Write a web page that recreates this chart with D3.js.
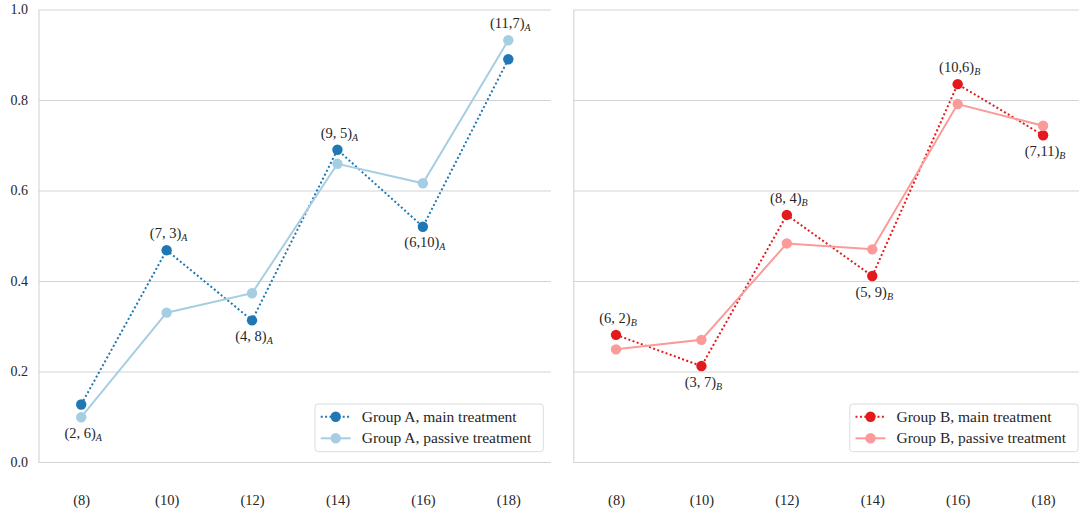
<!DOCTYPE html>
<html>
<head>
<meta charset="utf-8">
<script src="https://cdn.jsdelivr.net/npm/d3@7"></script>
<style>
  html, body { margin: 0; padding: 0; background: #fff; }
  svg { display: block; }
  text { font-family: "Liberation Serif", serif; fill: #262626; }
</style>
</head>
<body>
<svg id="chart" width="1079" height="516"></svg>
<script>
// Dose levels along the x axis and the shared y ticks
const xLabels = ["(8)", "(10)", "(12)", "(14)", "(16)", "(18)"];
const yTicks = [0.0, 0.2, 0.4, 0.6, 0.8, 1.0];

// Group A response rates
const groupAMain    = [0.127, 0.468, 0.313, 0.690, 0.520, 0.890];
const groupAPassive = [0.099, 0.330, 0.373, 0.659, 0.616, 0.932];
const groupALabels  = ["(2, 6)", "(7, 3)", "(4, 8)", "(9, 5)", "(6,10)", "(11,7)"];
const groupAPlace   = ["below", "above", "below", "above", "below", "above"];

// Group B response rates
const groupBMain    = [0.281, 0.212, 0.546, 0.411, 0.835, 0.722];
const groupBPassive = [0.249, 0.270, 0.483, 0.470, 0.791, 0.743];
const groupBLabels  = ["(6, 2)", "(3, 7)", "(8, 4)", "(5, 9)", "(10,6)", "(7,11)"];
const groupBPlace   = ["above", "below", "above", "below", "above", "below"];

const svg = d3.select("#chart");
const panelW = 512.5;
const plotTop = 9.5, plotBottom = 462;
const gridColor = "#d3d3d3";
const serif = '"Liberation Serif", serif';

const y = d3.scaleLinear().domain([0, 1]).range([plotBottom, plotTop]);

const panels = [
  { x0: 38.5, name: "A", main: groupAMain, passive: groupAPassive,
    labels: groupALabels, place: groupAPlace,
    cMain: "#1f78b4", cPassive: "#a6cee3", showY: true },
  { x0: 573.3, name: "B", main: groupBMain, passive: groupBPassive,
    labels: groupBLabels, place: groupBPlace,
    cMain: "#e31a1c", cPassive: "#fb9a99", showY: false }
];

panels.forEach(p => {
  const g = svg.append("g").attr("transform", `translate(${p.x0},0)`);
  const x = d3.scalePoint().domain(xLabels).range([0, panelW]).padding(0.5);

  // y axis: gridlines + left spine
  const yAxis = d3.axisLeft(y)
    .tickValues(yTicks)
    .tickSize(-panelW)
    .tickSizeOuter(0)
    .tickPadding(10.5)
    .tickFormat(p.showY ? d3.format(".1f") : () => "");
  const ya = g.append("g").call(yAxis).attr("font-family", serif);
  ya.selectAll(".tick line").attr("stroke", gridColor).attr("stroke-width", 1.1);
  ya.select(".domain").attr("stroke", gridColor).attr("stroke-width", 1.1);
  ya.selectAll(".tick text")
    .style("font-family", serif)
    .style("font-size", "14px").attr("fill", "#262626");

  // x axis: labels only
  const xAxis = d3.axisBottom(x).tickSize(0).tickPadding(33);
  const xa = g.append("g").attr("transform", `translate(0,${plotBottom})`).call(xAxis)
    .attr("font-family", serif);
  xa.select(".domain").remove();
  xa.selectAll(".tick text")
    .style("font-family", serif)
    .style("font-size", "14.5px").attr("fill", "#262626");

  const line = d3.line().x((d, i) => x(xLabels[i])).y(d => y(d));

  // main treatment: dotted
  g.append("path").datum(p.main)
    .attr("d", line).attr("fill", "none")
    .attr("stroke", p.cMain).attr("stroke-width", 2)
    .attr("stroke-dasharray", "2,2.4");
  g.selectAll(".mainpt").data(p.main).enter().append("circle")
    .attr("cx", (d, i) => x(xLabels[i])).attr("cy", d => y(d))
    .attr("r", 5.2).attr("fill", p.cMain);

  // passive treatment: solid
  g.append("path").datum(p.passive)
    .attr("d", line).attr("fill", "none")
    .attr("stroke", p.cPassive).attr("stroke-width", 2);
  g.selectAll(".passpt").data(p.passive).enter().append("circle")
    .attr("cx", (d, i) => x(xLabels[i])).attr("cy", d => y(d))
    .attr("r", 5.2).attr("fill", p.cPassive);

  // count annotations above / below each pair of points
  p.labels.forEach((lab, i) => {
    const ym = y(p.main[i]), yp = y(p.passive[i]);
    const yy = p.place[i] === "above" ? Math.min(ym, yp) - 12 : Math.max(ym, yp) + 20.5;
    const t = g.append("text")
      .attr("x", x(xLabels[i]) + 2)
      .attr("y", yy)
      .attr("text-anchor", "middle")
      .style("font-family", serif)
      .style("font-size", "14.5px");
    t.append("tspan").text(lab);
    t.append("tspan").attr("dy", 3).style("font-size", "10px")
      .style("font-style", "italic").text(p.name);
  });

  // legend, lower right
  const lw = 228.3, lh = 47.7;
  const lx = panelW - 7.7 - lw, ly = plotBottom - 10.3 - lh;
  const lg = g.append("g").attr("transform", `translate(${lx},${ly})`);
  lg.append("rect").attr("width", lw).attr("height", lh).attr("rx", 3)
    .attr("fill", "#fff").attr("fill-opacity", 0.8)
    .attr("stroke", "#dcdcdc").attr("stroke-width", 1);
  const entries = [
    { text: `Group ${p.name}, main treatment`, color: p.cMain, dash: "2,2.4", yy: 12.7 },
    { text: `Group ${p.name}, passive treatment`, color: p.cPassive, dash: null, yy: 34.3 }
  ];
  entries.forEach(e => {
    lg.append("line").attr("x1", 5.7).attr("x2", 35.7)
      .attr("y1", e.yy).attr("y2", e.yy)
      .attr("stroke", e.color).attr("stroke-width", 2)
      .attr("stroke-dasharray", e.dash);
    lg.append("circle").attr("cx", 20.7).attr("cy", e.yy).attr("r", 5.2).attr("fill", e.color);
    lg.append("text").attr("x", 46.7).attr("y", e.yy + 5)
      .style("font-family", serif)
      .style("font-size", "15.5px").text(e.text);
  });
});
</script>
</body>
</html>
